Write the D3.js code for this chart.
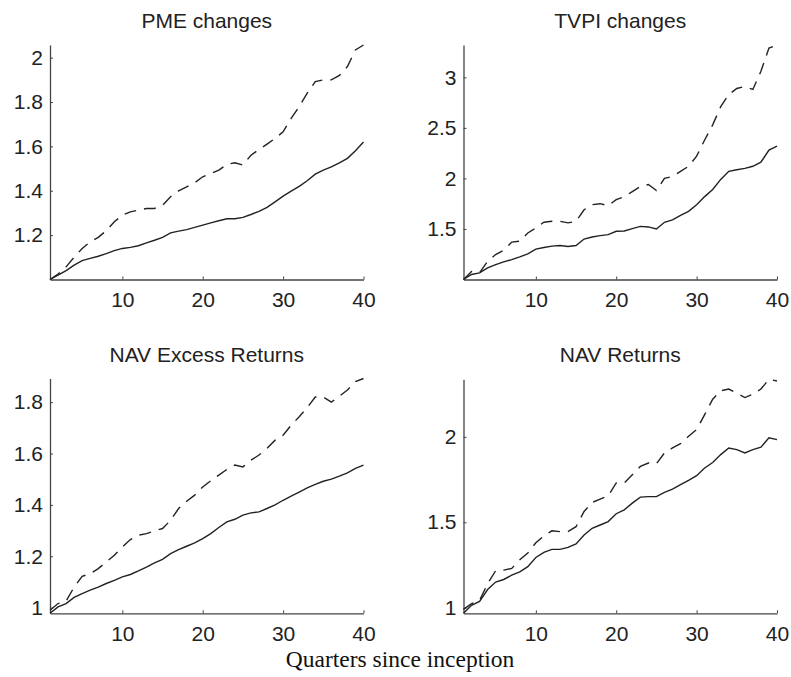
<!DOCTYPE html>
<html><head><meta charset="utf-8">
<script src="https://cdn.jsdelivr.net/npm/d3@7"></script>
<style>body{margin:0;background:#fff}svg{display:block}</style>
</head><body>
<svg id="chart" width="791" height="677"></svg>
<script>
const quarters = d3.range(1, 41);

const titles = ["PME changes", "TVPI changes", "NAV Excess Returns", "NAV Returns"];

const pmeSolid = [1.00,1.02,1.04,1.065,1.085,1.095,1.105,1.117,1.13,1.14,1.145,1.152,1.165,1.177,1.19,1.21,1.218,1.225,1.235,1.245,1.255,1.265,1.274,1.274,1.28,1.293,1.307,1.325,1.35,1.376,1.398,1.42,1.445,1.475,1.493,1.508,1.526,1.546,1.58,1.62];
const pmeDashed = [1.00,1.025,1.057,1.10,1.14,1.17,1.19,1.22,1.26,1.29,1.305,1.313,1.32,1.32,1.335,1.373,1.40,1.418,1.436,1.463,1.478,1.493,1.519,1.526,1.516,1.56,1.586,1.61,1.636,1.666,1.726,1.779,1.84,1.892,1.90,1.90,1.92,1.96,2.035,2.057];

const tvpiSolid = [1.00,1.05,1.066,1.115,1.148,1.174,1.197,1.224,1.253,1.30,1.316,1.33,1.336,1.326,1.336,1.40,1.42,1.434,1.444,1.477,1.48,1.503,1.526,1.52,1.50,1.566,1.59,1.635,1.674,1.74,1.82,1.89,1.99,2.07,2.086,2.10,2.12,2.16,2.28,2.32];
const tvpiDashed = [1.00,1.08,1.066,1.18,1.247,1.29,1.37,1.38,1.46,1.51,1.566,1.576,1.576,1.56,1.576,1.69,1.74,1.75,1.73,1.79,1.82,1.87,1.92,1.94,1.88,2.00,2.02,2.07,2.12,2.22,2.38,2.53,2.71,2.83,2.89,2.91,2.88,3.06,3.29,3.32];

const navExSolid = [0.978,1.003,1.016,1.04,1.055,1.068,1.08,1.094,1.106,1.12,1.129,1.143,1.158,1.174,1.188,1.21,1.226,1.239,1.252,1.269,1.288,1.312,1.334,1.344,1.36,1.369,1.373,1.386,1.40,1.418,1.434,1.45,1.466,1.48,1.492,1.50,1.512,1.525,1.542,1.555];
const navExDashed = [0.99,1.016,1.025,1.08,1.122,1.132,1.152,1.178,1.204,1.236,1.265,1.282,1.288,1.299,1.308,1.34,1.386,1.414,1.438,1.47,1.494,1.516,1.538,1.555,1.548,1.574,1.594,1.62,1.652,1.671,1.71,1.743,1.779,1.82,1.82,1.80,1.823,1.847,1.88,1.892];

const navSolid = [0.967,1.014,1.037,1.106,1.15,1.165,1.19,1.21,1.24,1.294,1.324,1.341,1.341,1.353,1.373,1.425,1.465,1.484,1.504,1.55,1.573,1.612,1.647,1.65,1.65,1.675,1.694,1.72,1.745,1.773,1.818,1.85,1.896,1.935,1.925,1.906,1.925,1.94,1.994,1.984];
const navDashed = [0.99,1.024,1.043,1.14,1.216,1.22,1.23,1.28,1.32,1.38,1.42,1.45,1.445,1.445,1.474,1.563,1.616,1.635,1.655,1.73,1.73,1.778,1.827,1.847,1.843,1.906,1.935,1.96,2.004,2.043,2.13,2.22,2.27,2.28,2.255,2.23,2.25,2.28,2.337,2.327];

const xTicks = [10, 20, 30, 40];
const yTicks = [
  [1.2, 1.4, 1.6, 1.8, 2],
  [1.5, 2, 2.5, 3],
  [1, 1.2, 1.4, 1.6, 1.8],
  [1, 1.5, 2]
];
const xLabel = "Quarters since inception";

const panels = [
  {title: titles[0], solid: pmeSolid, dashed: pmeDashed, ticks: yTicks[0], x0: 50, x1: 363.5, y0: 45, y1: 279.5},
  {title: titles[1], solid: tvpiSolid, dashed: tvpiDashed, ticks: yTicks[1], x0: 463.5, x1: 777, y0: 45, y1: 279.5},
  {title: titles[2], solid: navExSolid, dashed: navExDashed, ticks: yTicks[2], x0: 50, x1: 363.5, y0: 378.5, y1: 613.3},
  {title: titles[3], solid: navSolid, dashed: navDashed, ticks: yTicks[3], x0: 463.5, x1: 777, y0: 379.3, y1: 613.3}
];

const svg = d3.select("#chart");
const fontSans = "'Liberation Sans', Arial, Helvetica, sans-serif";
const axisColor = "#444";
const textColor = "#222";

panels.forEach(p => {
  const x = d3.scaleLinear().domain([1, 40]).range([p.x0, p.x1]);
  const ext = d3.extent(p.solid.concat(p.dashed));
  const y = d3.scaleLinear().domain(ext).range([p.y1, p.y0]);
  const g = svg.append("g");

  const xa = g.append("g").attr("transform", `translate(0,${p.y1})`)
    .call(d3.axisBottom(x).tickValues(xTicks).tickSizeInner(-3).tickSizeOuter(0).tickPadding(9).tickFormat(d3.format("d")));
  const ya = g.append("g").attr("transform", `translate(${p.x0},0)`)
    .call(d3.axisLeft(y).tickValues(p.ticks).tickSizeInner(-3).tickSizeOuter(0).tickPadding(7).tickFormat(d => String(d)));
  [xa, ya].forEach(a => {
    a.select(".domain").attr("stroke", axisColor).attr("stroke-width", 1.3);
    a.selectAll(".tick line").attr("stroke", axisColor).attr("stroke-width", 1);
    a.selectAll("text").attr("fill", textColor).style("font-family", fontSans).style("font-size", "21px");
  });
  xa.selectAll("text").attr("dy", "0.9em");

  const line = d3.line().x((d, i) => x(quarters[i])).y(d => y(d));
  g.append("path").datum(p.dashed).attr("d", line)
    .attr("fill", "none").attr("stroke", "#222").attr("stroke-width", 1.4)
    .attr("stroke-dasharray", "12,8");
  g.append("path").datum(p.solid).attr("d", line)
    .attr("fill", "none").attr("stroke", "#222").attr("stroke-width", 1.4);

  g.append("text").attr("x", (p.x0 + p.x1) / 2).attr("y", p.y0 - 17)
    .attr("text-anchor", "middle").attr("fill", textColor)
    .style("font-family", fontSans).style("font-size", "21px").text(p.title);
});

svg.append("text").attr("x", 400).attr("y", 667).attr("text-anchor", "middle")
  .attr("fill", "#111").style("font-family", "'Liberation Serif', 'Times New Roman', serif")
  .style("font-size", "23.5px").text(xLabel);
</script>
</body></html>
